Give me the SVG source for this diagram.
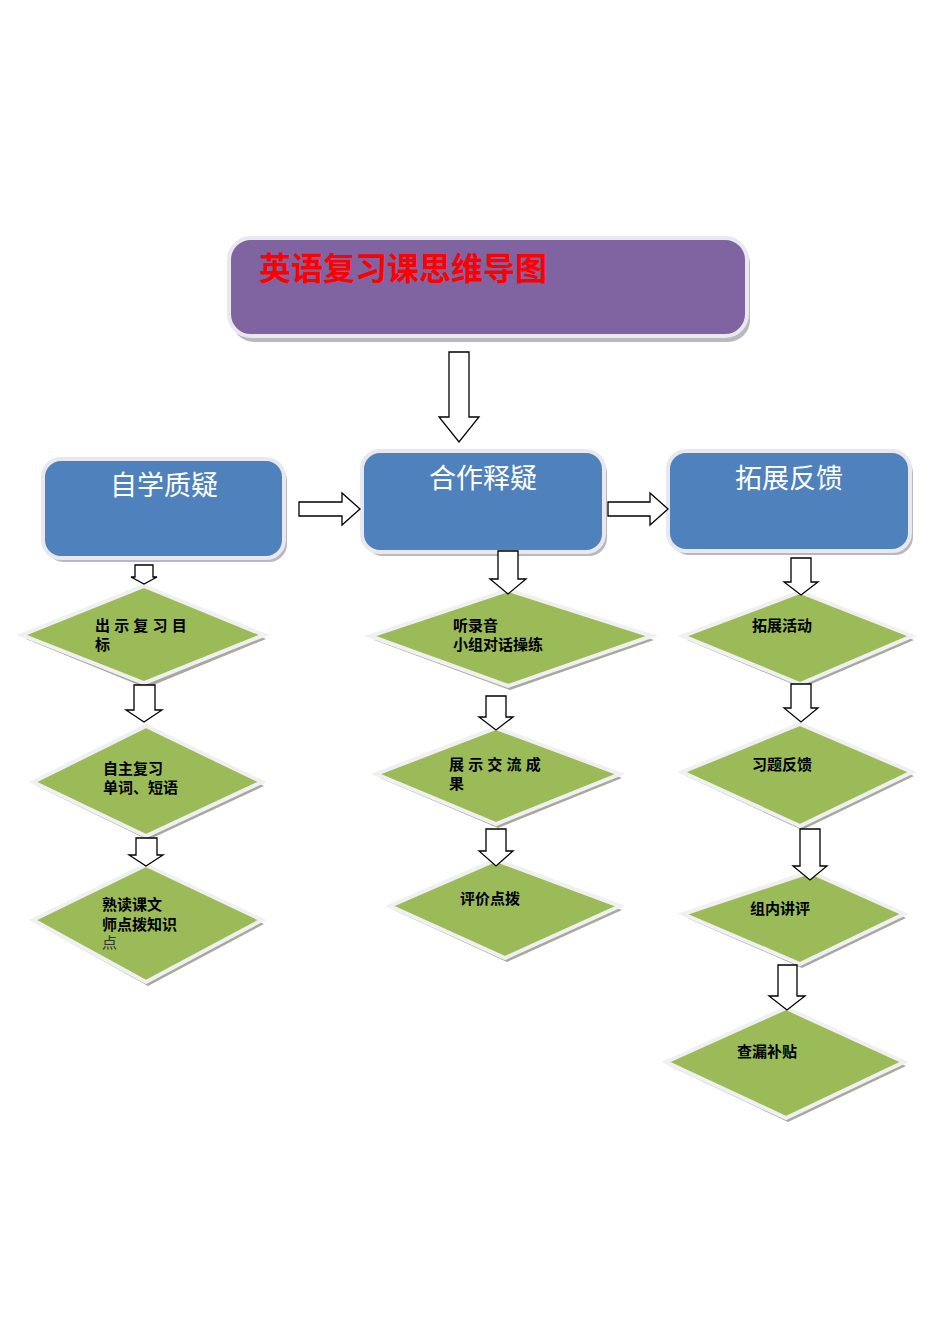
<svg xmlns="http://www.w3.org/2000/svg" width="950" height="1344" viewBox="0 0 950 1344">
<style>
.box{stroke:#e8e8ee;stroke-width:4}
.sh{fill:#b8b8c0}
.dm{fill:#9bbb59;stroke:#f0f0f0;stroke-width:4}
.dsh{fill:#a8a8a0}
.ar{fill:#fff;stroke:#000;stroke-width:1.3}
.t{font-family:"Liberation Sans","Noto Sans CJK SC",sans-serif}
.w{fill:#fff;font-size:27px}
.k{fill:#000;font-size:15px;font-weight:bold}
</style>
<rect width="950" height="1344" fill="#fff"/>
<g id="title">
<rect class="sh" x="232" y="242" width="518" height="100" rx="22"/>
<rect class="box" x="229" y="238" width="518" height="98" rx="22" fill="#8064a2"/>
<text class="t" x="259" y="280" font-size="32" font-weight="bold" fill="#ff0000">英语复习课思维导图</text>
</g>
<g id="b1"><rect class="sh" x="46" y="463" width="241" height="99" rx="18"/><rect class="box" x="43" y="459" width="241" height="99" rx="18" fill="#4f81bd"/><text class="t w" x="164" y="495" text-anchor="middle">自学质疑</text></g>
<g id="b2"><rect class="sh" x="365" y="455" width="242" height="101" rx="18"/><rect class="box" x="362" y="451" width="242" height="101" rx="18" fill="#4f81bd"/><text class="t w" x="483" y="488" text-anchor="middle">合作释疑</text></g>
<g id="b3"><rect class="sh" x="671" y="455" width="242" height="100" rx="18"/><rect class="box" x="668" y="451" width="242" height="100" rx="18" fill="#4f81bd"/><text class="t w" x="789" y="488" text-anchor="middle">拓展反馈</text></g>
<g id="d1"><polygon class="dsh" points="146,590 266,639 146,688 26,639"/><polygon class="dm" points="144,586 264,635 144,683 22,635"/><text class="t k" x="95" y="631">出 示 复 习 目</text><text class="t k" x="95" y="650">标</text></g>
<g id="d2"><polygon class="dsh" points="148,730 264,786 148,840 37,786"/><polygon class="dm" points="146,726 262,782 146,836 33,782"/><text class="t k" x="103" y="774">自主复习</text><text class="t k" x="103" y="793">单词、短语</text></g>
<g id="d3"><polygon class="dsh" points="148,869 264,924 148,986 37,924"/><polygon class="dm" points="146,865 262,920 146,982 33,920"/><text class="t k" x="102" y="910">熟读课文</text><text class="t k" x="102" y="930">师点拨知识</text><text class="t" x="102" y="948" font-size="15" fill="#333">点</text></g>
<g id="d4"><polygon class="dsh" points="510,594 654,640 510,690 374,640"/><polygon class="dm" points="508,590 652,636 508,686 370,636"/><text class="t k" x="453" y="631">听录音</text><text class="t k" x="453" y="650">小组对话操练</text></g>
<g id="d5"><polygon class="dsh" points="498,732 622,778 498,828 380,778"/><polygon class="dm" points="496,728 620,774 496,824 376,774"/><text class="t k" x="449" y="770">展 示 交 流 成</text><text class="t k" x="449" y="789">果</text></g>
<g id="d6"><polygon class="dsh" points="498,864 622,910 507,962 394,910"/><polygon class="dm" points="496,860 620,906 505,958 390,906"/><text class="t k" x="460" y="904">评价点拨</text></g>
<g id="d7"><polygon class="dsh" points="802,596 914,640 802,688 687,640"/><polygon class="dm" points="800,592 912,636 800,684 683,636"/><text class="t k" x="752" y="631">拓展活动</text></g>
<g id="d8"><polygon class="dsh" points="802,728 914,776 802,830 686,776"/><polygon class="dm" points="800,724 912,772 800,826 682,772"/><text class="t k" x="752" y="770">习题反馈</text></g>
<g id="d9"><polygon class="dsh" points="812,876 906,918 802,968 687,918"/><polygon class="dm" points="810,872 904,914 800,964 683,914"/><text class="t k" x="750" y="914">组内讲评</text></g>
<g id="d10"><polygon class="dsh" points="788,1012 906,1066 788,1122 670,1066"/><polygon class="dm" points="786,1008 904,1062 786,1118 666,1062"/><text class="t k" x="737" y="1057">查漏补贴</text></g>
<g id="connectors">
<path class="ar" d="M449,352H469V417H479L459,442L439,417H449Z"/>
<path class="ar" d="M299,502H342V493L360,509L342,525V516H299Z"/>
<path class="ar" d="M608,502H650V493L668,509L650,525V516H608Z"/>
<path class="ar" d="M135,565H153V577H157L144,584L131,577H135Z"/>
<path class="ar" d="M134,685H155V710H162L144,722L126,710H134Z"/>
<path class="ar" d="M136,838H157V855H163L146,866L129,855H136Z"/>
<path class="ar" d="M498,551H518V579H526L508,594L490,579H498Z"/>
<path class="ar" d="M486,696H506V717H513L496,730L479,717H486Z"/>
<path class="ar" d="M486,829H506V851H513L496,866L479,851H486Z"/>
<path class="ar" d="M791,558H811V582H818L801,595L784,582H791Z"/>
<path class="ar" d="M791,684H811V708H818L801,722L784,708H791Z"/>
<path class="ar" d="M800,829H820V866H827L810,880L793,866H800Z"/>
<path class="ar" d="M778,965H797V996H805L787,1010L769,996H778Z"/>
</g>
</svg>
